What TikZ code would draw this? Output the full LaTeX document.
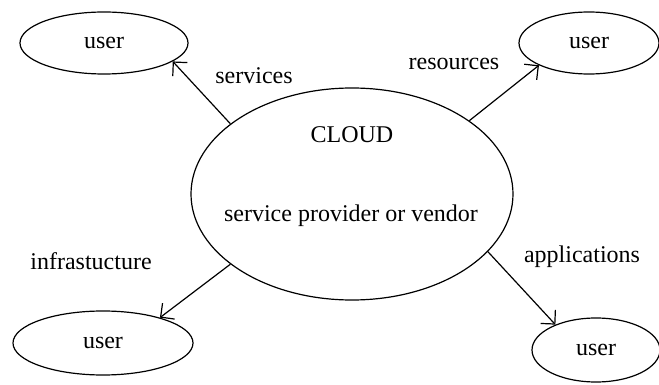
\documentclass[tikz,border=0pt]{standalone}
\usepackage{fontspec}
\setmainfont{Liberation Serif}
\usepackage{tikz}
\usetikzlibrary{shapes.geometric, arrows.meta}
\tikzstyle{client} = [ellipse, draw = black, line width = 0.6pt, inner sep = 0pt, minimum height = 31pt]
\tikzstyle{nuage} = [ellipse, draw = black, line width = 0.6pt, inner sep = 0pt, minimum width = 161pt, minimum height = 106pt]
\tikzstyle{lien} = [-{Straight Barb[length = 5pt, width = 10pt]}, line width = 0.6pt]
\tikzstyle{etiquette} = [anchor = base, inner sep = 0pt]

\begin{document}
\begin{tikzpicture}[x = 0.5pt, y = -0.5pt, font = \fontsize{12}{14}\selectfont]

\useasboundingbox (0,0) rectangle (659,385);

\node (1) [nuage] at (352,194) {};
\node (2) [client, minimum width = 84pt] at (104,43) {user};
\node (3) [client, minimum width = 70pt] at (589,43) {user};
\node (4) [client, minimum width = 90pt, minimum height = 32pt] at (103,343) {user};
\node (5) [client, minimum width = 64pt, minimum height = 32pt] at (596,350) {user};

\node (6) [etiquette] at (352,142) {CLOUD};
\node (7) [etiquette] at (351,221) {service provider or vendor};

\node (8) [etiquette] at (254,84) {services};
\node (9) [etiquette] at (454,70) {resources};
\node (10) [etiquette] at (91,270) {infrastucture};
\node (11) [etiquette] at (582,263) {applications};

\draw[lien] (1.150) -- (2.-15);
\draw[lien] (1.32) -- (3.204);
\draw[lien] (1.210) -- (4.24);
\draw[lien] (1.-23) -- (5.148);

\end{tikzpicture}
\end{document}
